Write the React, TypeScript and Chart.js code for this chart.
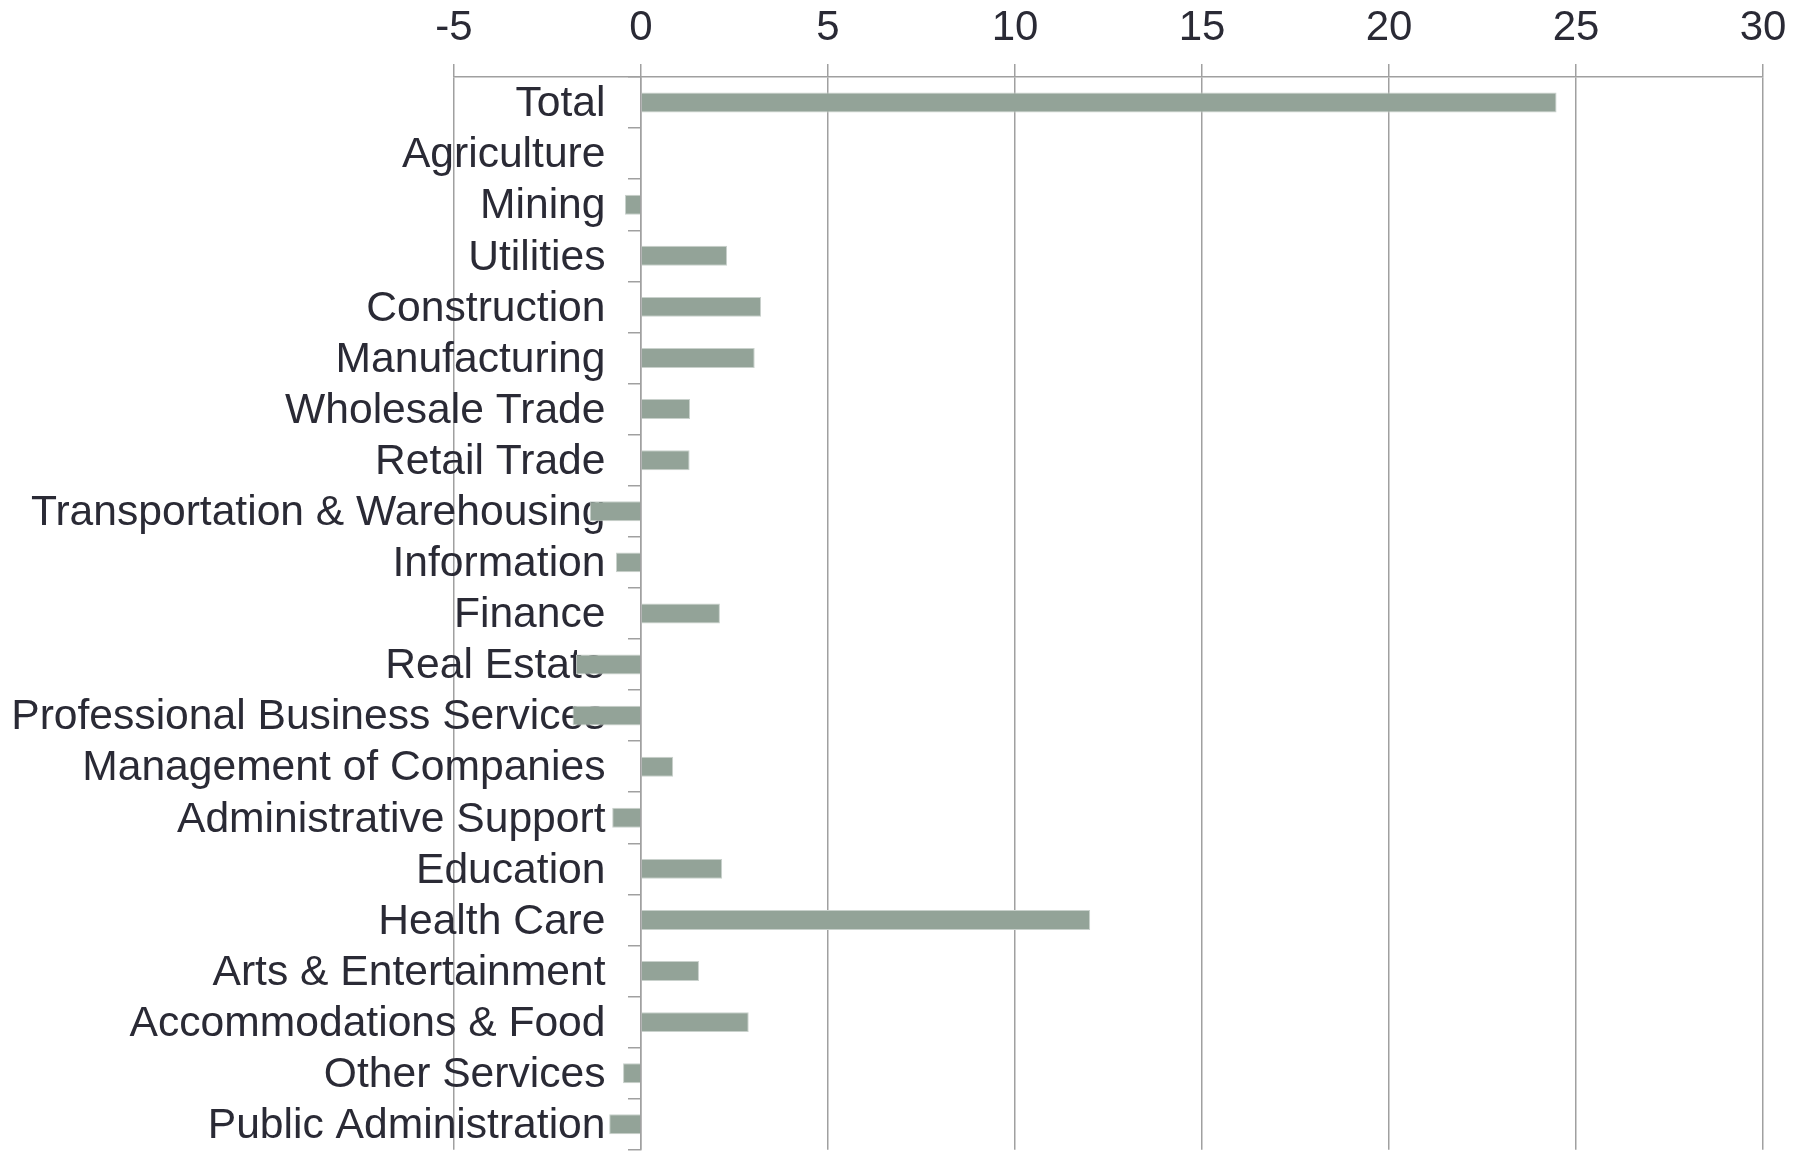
import React, { useEffect, useRef } from 'react';
import { Chart, registerables } from 'chart.js';

Chart.register(...registerables);

const categories = [
  'Total',
  'Agriculture',
  'Mining',
  'Utilities',
  'Construction',
  'Manufacturing',
  'Wholesale Trade',
  'Retail Trade',
  'Transportation & Warehousing',
  'Information',
  'Finance',
  'Real Estate',
  'Professional Business Services',
  'Management of Companies',
  'Administrative Support',
  'Education',
  'Health Care',
  'Arts & Entertainment',
  'Accommodations & Food',
  'Other Services',
  'Public Administration',
];

const values = [
  24.48, 0, -0.43, 2.3, 3.21, 3.04, 1.31, 1.3, -1.37, -0.67, 2.11,
  -1.74, -1.83, 0.86, -0.77, 2.17, 12.01, 1.55, 2.88, -0.48, -0.85,
];

const xMin = -5;
const xMax = 30;
const xStep = 5;

const BAR = '#93A398';
const BAR_EDGE = '#C9D1CC';
const GRID = '#A0A0A0';
const TEXT = '#2A2A35';
const FAMILY = '"Liberation Sans", Arial, sans-serif';

export default function App() {
  const ref = useRef<HTMLCanvasElement>(null);

  useEffect(() => {
    const canvas = ref.current;
    if (!canvas) return;
    const chart = new Chart(canvas, {
      type: 'bar',
      data: {
        labels: categories,
        datasets: [
          {
            data: values,
            backgroundColor: BAR,
            borderColor: BAR_EDGE,
            borderWidth: 1,
            categoryPercentage: 1,
            barPercentage: 0.39,
            yAxisID: 'y',
            xAxisID: 'x',
          },
        ],
      },
      options: {
        indexAxis: 'y',
        animation: false,
        responsive: false,
        devicePixelRatio: 1,
        layout: { padding: { top: 0, right: 43, bottom: 0, left: 454 } },
        plugins: {
          legend: { display: false },
          tooltip: { enabled: false },
        },
        scales: {
          x: {
            type: 'linear',
            position: 'top',
            min: xMin,
            max: xMax,
            ticks: {
              stepSize: xStep,
              font: { family: FAMILY, size: 42 },
              color: TEXT,
              padding: 10.3,
            },
            grid: { color: GRID, lineWidth: 1.5, tickLength: 13 },
            border: { color: GRID, width: 1.5 },
            afterFit: (s: any) => {
              s.height = 77;
            },
          },
          y: {
            type: 'category',
            axis: 'y',
            position: { x: -0.95 },
            z: 1,
            grid: { display: false, drawTicks: false },
            border: { display: false },
            ticks: {
              font: { family: FAMILY, size: 42.6, lineHeight: 0.1 },
              color: TEXT,
              padding: 0,
              labelOffset: 2,
              autoSkip: false,
            },
          },
          yZero: {
            type: 'category',
            axis: 'y',
            position: { x: 0 },
            grid: {
              drawOnChartArea: false,
              offset: true,
              tickLength: 12,
              color: GRID,
              lineWidth: 1.5,
            },
            border: { color: GRID, width: 1.5 },
            ticks: { display: false },
          },
        },
      } as any,
    });
    return () => chart.destroy();
  }, []);

  return (
    <div
      style={{
        position: 'fixed',
        left: 0,
        top: 0,
        width: 1806,
        height: 1152,
        background: '#ffffff',
      }}
    >
      <canvas
        ref={ref}
        width={1806}
        height={1152}
        style={{ display: 'block', width: 1806, height: 1152 }}
      />
    </div>
  );
}
